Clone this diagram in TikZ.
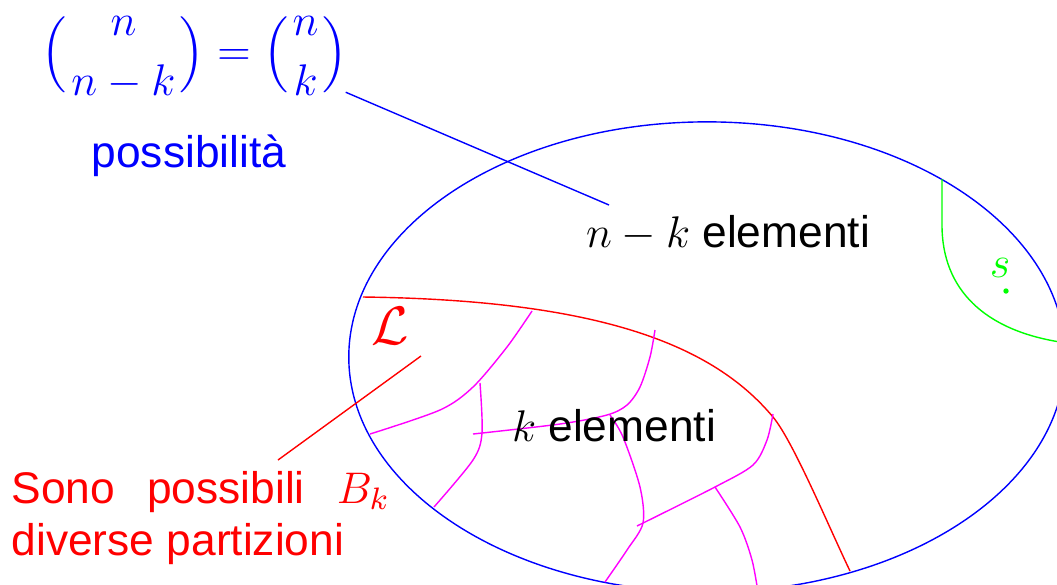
\RequirePackage{fix-cm}
\documentclass[tikz,border=0pt]{standalone}
\usepackage{amsmath}
\usepackage[no-math]{fontspec}
\setmainfont{Liberation Sans}
\definecolor{setblue}{RGB}{0,0,255}
\definecolor{partred}{RGB}{255,0,0}
\definecolor{cutmag}{RGB}{255,0,255}
\definecolor{ptgreen}{RGB}{0,255,0}
\usetikzlibrary{calc}

\begin{document}
\begin{tikzpicture}[x=0.01cm,y=-0.01cm,line width=0.4pt,
    font=\fontsize{12.6}{14.8}\selectfont,
    lbl/.style={anchor=base,inner sep=0pt},
    cut/.style={cutmag,line width=0.4pt}]
        \clip (0,0) rectangle (1057,584);
        \draw[setblue] (707,357) ellipse [x radius=3.58cm,y radius=2.35cm];
        \node[text=setblue,inner sep=0pt] (binom) at (195,57)
          {$\Bigl(\genfrac{}{}{0pt}{0}{n}{n-k}\Bigr)=\Bigl(\genfrac{}{}{0pt}{0}{n}{k}\Bigr)$};
        \node[lbl,text=setblue] (poss) at (189,167) {possibilità};
        \node[lbl] (nk) at (728,247) {$n-k$ elementi};
        \coordinate (nkend) at (609,205);
        \draw[setblue] ($(binom.south east)+(-3,-8)$) -- (nkend);
        % region L and its parts
        \draw[partred] (363,297) .. controls (600,300) and (713,345) .. (773,417)
          .. controls (793,441) and (828,525) .. (850,571);
        \draw[cut] plot[smooth] coordinates {(370,434) (440,410) (473,387) (507,347) (532,311)};
        \draw[cut] plot[smooth] coordinates {(480,383) (482,433) (473,460) (434,507)};
        \draw[cut] plot[smooth] coordinates {(473,434) (560,424) (607,415) (627,405) (640,387) (650,357) (655,330)};
        \draw[cut] plot[smooth] coordinates {(610,415) (623,437) (640,487) (643,523) (627,550) (605,582)};
        \draw[cut] plot[smooth] coordinates {(637,526) (715,487) (753,465) (767,440) (773,414)};
        \draw[cut] plot[smooth] coordinates {(715,487) (740,527) (752,560) (758,592)};
        \node[lbl] (kel) at (614,441) {$k$ elementi};
        \node[text=partred,font=\fontsize{15.4}{18}\selectfont] (calL) at (390,326) {$\mathcal{L}$};
        \node[lbl,anchor=base west,text=partred] (sono) at (11,503)
          {Sono\hspace{3.2mm}possibili\hspace{3.2mm}$B_k$};
        \node[lbl,anchor=base west,text=partred] (diverse) at (11,555) {diverse partizioni};
        \coordinate (lcorner) at (421,356);
        \coordinate (bkend) at (278,460);
        \draw[partred] (lcorner) -- (bkend);
        % the point s
        \draw[ptgreen] (942,179) -- (942,225) .. controls (942,290) and (985,330) .. (1060,342);
        \node[text=ptgreen] (s) at (1000,268) {$s$};
        \fill[ptgreen] (1006,291) circle[radius=0.27mm];
      \end{tikzpicture}
\end{document}
